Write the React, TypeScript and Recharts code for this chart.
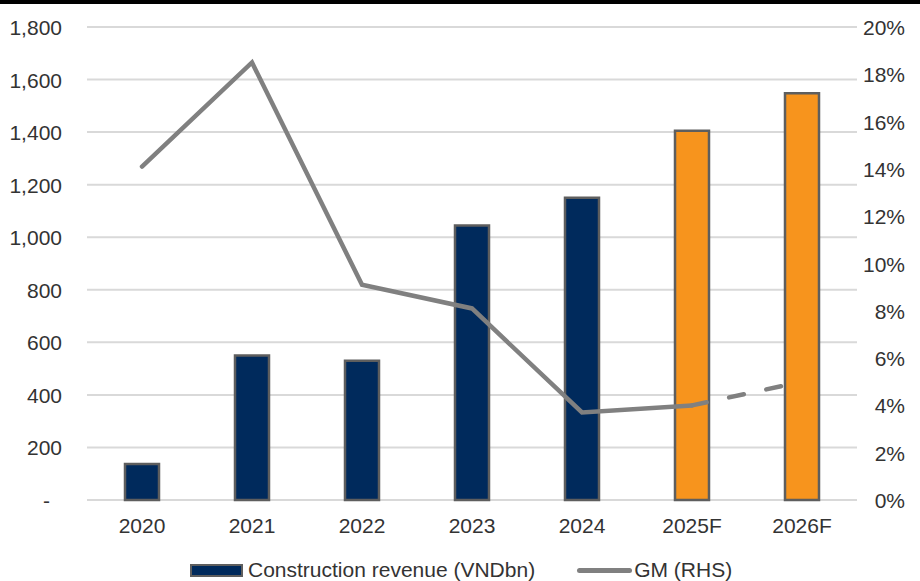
import React from "react";
import { ComposedChart, Bar, Line, XAxis, YAxis, CartesianGrid, Cell, Legend } from "recharts";

const categories = ["2020", "2021", "2022", "2023", "2024", "2025F", "2026F"];
const revenue = [137, 550, 530, 1045, 1150, 1405, 1548];
const isForecast = [false, false, false, false, false, true, true];
const gmActual = [0.141, 0.185, 0.091, 0.081, 0.037, 0.04, null];
const gmForecast = [null, null, null, null, null, 0.04, 0.05];
const leftTicks = [0, 200, 400, 600, 800, 1000, 1200, 1400, 1600, 1800];
const rightTicks = [0, 0.02, 0.04, 0.06, 0.08, 0.1, 0.12, 0.14, 0.16, 0.18, 0.2];

const NAVY = "#002A5C";
const ORANGE = "#F7941D";
const BAR_STROKE = "#5E5E5E";
const LINE = "#808080";
const TEXT = "#333333";
const FONT = "'Liberation Sans', Arial, sans-serif";

const data = categories.map((c, i) => ({
  name: c,
  revenue: revenue[i],
  gm: gmActual[i],
  gmF: gmForecast[i],
}));

const XTick = (props: any) => {
  const { x, payload } = props;
  return (
    <text x={x} y={533} textAnchor="middle" fontSize={21} fontFamily={FONT} fill={TEXT}>
      {payload.value}
    </text>
  );
};

const LeftTick = (props: any) => {
  const { y, payload } = props;
  const v = payload.value as number;
  const label = v === 0 ? "-" : v.toLocaleString("en-US");
  return (
    <text x={v === 0 ? 50 : 62} y={y + 8} textAnchor="end" fontSize={21} fontFamily={FONT} fill={TEXT}>
      {label}
    </text>
  );
};

const RightTick = (props: any) => {
  const { y, payload } = props;
  const v = payload.value as number;
  return (
    <text x={905} y={y + 8} textAnchor="end" fontSize={21} fontFamily={FONT} fill={TEXT}>
      {Math.round(v * 100) + "%"}
    </text>
  );
};

const LegendContent = () => (
  <div style={{ display: "flex", alignItems: "center", fontFamily: FONT, fontSize: 21, color: TEXT, height: 24, whiteSpace: "nowrap" }}>
    <span style={{ display: "inline-block", width: 49, height: 9, background: NAVY, border: `2px solid ${BAR_STROKE}` }} />
    <span style={{ marginLeft: 5 }}>Construction revenue (VNDbn)</span>
    <span style={{ display: "inline-block", width: 55, height: 5, background: LINE, borderRadius: 3, marginLeft: 42 }} />
    <span style={{ marginLeft: 2 }}>GM (RHS)</span>
  </div>
);

export default function App() {
  return (
    <div style={{ position: "fixed", left: 0, top: 0, width: 920, height: 581, background: "#fff", overflow: "hidden" }}>
      <div style={{ position: "absolute", left: 0, top: 0, width: 920, height: 4, background: "#000", zIndex: 2 }} />
      <ComposedChart
        width={920}
        height={581}
        data={data}
        margin={{ top: 27, right: 0, left: 0, bottom: 41 }}
        barCategoryGap={0}
      >
        <CartesianGrid vertical={false} stroke="#D9D9D9" strokeWidth={2} yAxisId="left" />
        <XAxis dataKey="name" axisLine={false} tickLine={false} tickSize={0} height={40} tick={<XTick />} interval={0} />
        <YAxis
          yAxisId="left"
          orientation="left"
          width={87}
          domain={[0, 1800]}
          ticks={leftTicks}
          axisLine={false}
          tickLine={false}
          tick={<LeftTick />}
          interval={0}
        />
        <YAxis
          yAxisId="right"
          orientation="right"
          width={63}
          domain={[0, 0.2]}
          ticks={rightTicks}
          axisLine={false}
          tickLine={false}
          tick={<RightTick />}
          interval={0}
        />
        <Bar yAxisId="left" dataKey="revenue" barSize={34} stroke={BAR_STROKE} strokeWidth={2.5} isAnimationActive={false}>
          {data.map((d, i) => (
            <Cell key={d.name} fill={isForecast[i] ? ORANGE : NAVY} />
          ))}
        </Bar>
        <Line
          yAxisId="right"
          dataKey="gm"
          stroke={LINE}
          strokeWidth={4.5}
          dot={false}
          activeDot={false}
          strokeLinecap="round"
          isAnimationActive={false}
          connectNulls={false}
        />
        <Line
          yAxisId="right"
          dataKey="gmF"
          stroke={LINE}
          strokeWidth={4.5}
          strokeDasharray="15 23"
          strokeLinecap="round"
          dot={false}
          activeDot={false}
          isAnimationActive={false}
          connectNulls={false}
        />
        <Legend
          verticalAlign="middle"
          layout="horizontal"
          content={<LegendContent />}
          wrapperStyle={{ left: 190, top: 558, width: 620, height: 24 }}
        />
      </ComposedChart>
    </div>
  );
}
